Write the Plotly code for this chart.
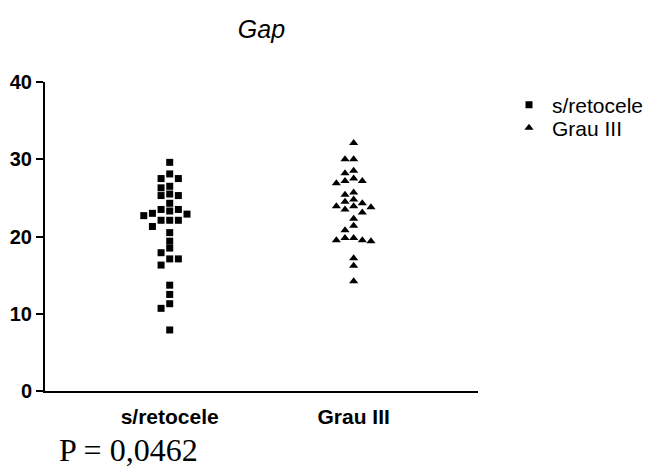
import plotly.graph_objects as go

# ---- data ----
categories = ["s/retocele", "Grau III"]
s_retocele = [29.6, 28.1, 27.5, 27.5, 26.5, 26.3, 25.5, 25.3, 25.3, 24.3,
              23.5, 23.5, 23.3, 23.0, 22.9, 22.7, 22.1, 22.1, 22.1, 21.3,
              20.5, 19.4, 18.5, 17.9, 17.1, 17.1, 16.3, 13.7, 12.5, 11.3,
              10.7, 7.9]
grau_iii = [32.1, 30.0, 30.0, 28.5, 28.2, 27.5, 27.2, 27.2, 26.9, 25.7,
            25.4, 24.8, 24.5, 24.3, 23.9, 23.9, 23.8, 23.5, 23.1, 22.3,
            21.4, 20.8, 19.8, 19.8, 19.5, 19.5, 19.4, 17.2, 16.2, 14.2]
y_ticks = [0, 10, 20, 30, 40]
p_text = "P = 0,0462"
title_text = "Gap"


def swarm(values, center, slot=0.047, min_dy=0.85):
    """Simple greedy beeswarm: place each point in the first free column slot."""
    order = [0, -1, 1, -2, 2, -3, 3, -4, 4]
    placed = []  # (slot, value)
    xs = [None] * len(values)
    idx = sorted(range(len(values)), key=lambda i: -values[i])
    for i in idx:
        v = values[i]
        for s in order:
            if all(not (ps == s and abs(pv - v) < min_dy) for ps, pv in placed):
                placed.append((s, v))
                xs[i] = center + s * slot
                break
    return xs


# page offset of the plotly div (body margin)
OFF = 8
W, H = 659, 474
L, T = 45 - OFF, 82 - OFF
PW, PH = 433, 309


def px_x(page_x):
    return (page_x - 45) / PW


def px_y(page_y):
    return (391 - page_y) / PH


fig = go.Figure()
fig.add_trace(go.Scatter(
    x=swarm(s_retocele, 1), y=s_retocele, mode="markers", name=categories[0],
    marker=dict(symbol="square", size=7, color="black"),
    legend="legend", showlegend=True,
))
fig.add_trace(go.Scatter(
    x=swarm(grau_iii, 2), y=grau_iii, mode="markers", name=categories[1],
    marker=dict(symbol="triangle-up", size=8, color="black"),
    legend="legend2", showlegend=True,
))

legend_common = dict(xanchor="left", yanchor="middle", itemwidth=36,
                     font=dict(size=21, color="black"), bgcolor="rgba(0,0,0,0)",
                     visible=True)

fig.update_layout(
    width=W, height=H, showlegend=True,
    margin=dict(l=L, r=W - L - PW, t=T, b=H - T - PH, pad=0),
    plot_bgcolor="white", paper_bgcolor="white",
    font=dict(family="Liberation Sans, Arial, sans-serif", color="black"),
    title=dict(text="<i>" + title_text + "</i>", x=(L + PW / 2) / W,
               xanchor="center", y=1 - (29 - OFF) / H, yanchor="middle",
               font=dict(size=25, color="black")),
    xaxis=dict(range=[0.322, 2.676], tickmode="array", tickvals=[1, 2],
               ticktext=categories, showline=True, linewidth=2, linecolor="black",
               ticks="", showgrid=False, zeroline=False, ticklabelstandoff=6,
               automargin=False,
               tickfont=dict(size=21, weight="bold", color="black")),
    yaxis=dict(range=[0, 40], tickmode="array", tickvals=y_ticks,
               showline=True, linewidth=2, linecolor="black",
               ticks="outside", ticklen=7, tickwidth=2, tickcolor="black",
               showgrid=False, zeroline=False, automargin=False,
               tickfont=dict(size=20, weight="bold", color="black")),
    legend=dict(x=px_x(506), y=px_y(105), **legend_common),
    legend2=dict(x=px_x(506), y=px_y(128), **legend_common),
    annotations=[dict(text=p_text, xref="paper", yref="paper",
                      x=px_x(57), xanchor="left",
                      y=px_y(450), yanchor="middle", showarrow=False,
                      font=dict(family="Liberation Serif, Times New Roman, serif",
                                size=32, color="black"))],
)

fig.write_html("out.html")
